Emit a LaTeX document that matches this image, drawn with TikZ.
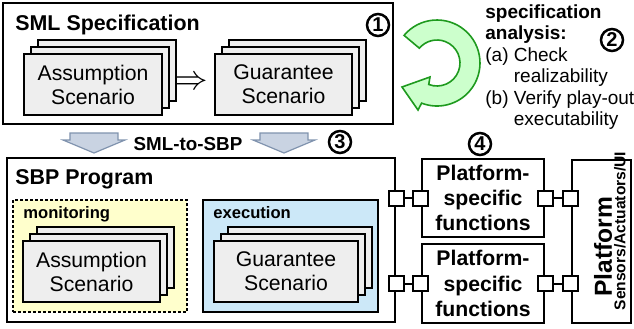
\documentclass[tikz,border=0pt]{standalone}
\usepackage{fontspec}
\setmainfont{Liberation Sans}
\usetikzlibrary{shadows}

\definecolor{scengray}{HTML}{EEEEEE}
\definecolor{monyellow}{HTML}{FFFFCC}
\definecolor{exeblue}{HTML}{CCE8F8}
\definecolor{arrowfill}{HTML}{C9D3E2}
\definecolor{arrowline}{HTML}{8093AE}
\definecolor{loopfill}{HTML}{CCFFCC}
\definecolor{loopline}{HTML}{1E9A1E}

\tikzset{
  bigbox/.style={draw, line width=1.25pt, inner sep=0pt},
  scenbox/.style={draw, fill=scengray, line width=0.7pt, align=center, inner sep=0pt,
    minimum height=30.5pt, font=\fontsize{10.6}{12}\selectfont,
    copy shadow={shadow xshift=7pt, shadow yshift=7pt, fill=scengray, line width=0.7pt},
    copy shadow={shadow xshift=3.5pt, shadow yshift=3.5pt, fill=scengray, line width=0.7pt}},
  boxtitle/.style={anchor=base west, inner sep=0pt, font=\fontsize{10.7}{12}\selectfont\bfseries},
  subtitle/.style={anchor=base west, inner sep=0pt, font=\fontsize{8.3}{10}\selectfont\bfseries},
  numcirc/.style={circle, draw, line width=1.25pt, inner sep=0pt, minimum size=11pt,
    font=\fontsize{10}{10}\selectfont\bfseries},
  port/.style={draw, fill=white, line width=1pt, inner sep=0pt, minimum size=7.5pt},
  portline/.style={line width=1pt},
  blockarrow/.style={draw=arrowline, fill=arrowfill, line width=0.6pt},
  psf/.style={bigbox, minimum width=61pt, minimum height=39pt, align=center,
    font=\fontsize{10.6}{12.7}\selectfont\bfseries}
}

\begin{document}
\begin{tikzpicture}[x=0.5pt,y=0.5pt]
\useasboundingbox (0,0) rectangle (634,-328);

% specification part
\node[bigbox, minimum width=195pt, minimum height=60.5pt] (sml) at (198,-63.5) {};
\node[boxtitle] (smltitle) at (15,-30) {SML Specification};
\node[numcirc] (c1) at (378,-25) {1};

\node[scenbox, minimum width=69pt] (smlA) at (93,-84.5) {Assumption\\Scenario};
\node[inner sep=0pt, font=\fontsize{16}{16}\selectfont] (impl) at (191,-83) {$\Rightarrow$};
\node[scenbox, minimum width=68.5pt] (smlG) at (283.5,-84.5) {Guarantee\\Scenario};

% analysis loop
\draw[draw=loopline, fill=loopfill, line width=0.8pt]
  ([shift={(437,-63)}]140:43) arc[start angle=140, end angle=-111, radius=43]
  -- (418,-110) -- (402,-87) -- (430,-77)
  -- ([shift={(437,-63)}]-111:23) arc[start angle=-111, end angle=140, radius=23] -- cycle;

\node[anchor=north west, inner sep=0pt, font=\fontsize{9.5}{10.75}\selectfont] (analysis) at (485,-3) {%
  \begin{tabular}{@{}l@{\ }l@{}}
  \multicolumn{2}{@{}l@{}}{\bfseries specification}\\
  \multicolumn{2}{@{}l@{}}{\bfseries analysis:}\\
  (a) & Check\\
      & realizability\\
  (b) & Verify play-out\\
      & executability
  \end{tabular}};
\node[numcirc] (c2) at (612,-40) {2};

% translation
\foreach \ax in {94,284} {
  \draw[blockarrow] (\ax-24,-133) -- (\ax+24,-133) -- (\ax+24,-140) -- (\ax+31,-140)
    -- (\ax,-153) -- (\ax-31,-140) -- (\ax-24,-140) -- cycle;
}
\node[font=\fontsize{9.4}{11}\selectfont\bfseries] (s2s) at (188,-144) {SML-to-SBP};
\node[numcirc] (c3) at (340,-142) {3};

% program part
\node[bigbox, minimum width=194pt, minimum height=82pt] (sbp) at (201,-240) {};
\node[boxtitle] (sbptitle) at (15,-184) {SBP Program};

\node[draw, dash pattern=on 1.5pt off 1pt, fill=monyellow, line width=0.6pt, minimum width=87pt, minimum height=56pt] (mon) at (100,-256) {};
\node[subtitle] (montitle) at (23,-218) {monitoring};
\node[draw, fill=exeblue, line width=0.6pt, minimum width=87.5pt, minimum height=56pt] (exe) at (290.5,-256) {};
\node[subtitle] (exetitle) at (213,-218) {execution};

\node[scenbox, minimum width=68.5pt] (sbpA) at (91.5,-271.5) {Assumption\\Scenario};
\node[scenbox, minimum width=72pt] (sbpG) at (286,-271.5) {Guarantee\\Scenario};

% platform
\node[psf] (psfA) at (483,-198) {Platform-\\specific\\functions};
\node[psf, minimum height=39.5pt] (psfB) at (483,-283.5) {Platform-\\specific\\functions};
\node[numcirc] (c4) at (480,-144) {4};

\node[bigbox, minimum width=29.5pt, minimum height=81.5pt] (plat) at (601.5,-241.5) {};
\node[rotate=90, font=\fontsize{12.3}{14}\selectfont\bfseries] (platname) at (603,-247) {Platform};
\node[rotate=90, font=\fontsize{7.8}{9}\selectfont\bfseries] (sensors) at (620,-231) {Sensors/Actuators/UI};

\foreach \r in {A,B} {
  \node[port] (l\r) at (sbp.east |- psf\r) {};
  \node[port] (m\r) at (psf\r.west) {};
  \node[port] (n\r) at (psf\r.east) {};
  \node[port] (r\r) at (plat.west |- psf\r) {};
  \draw[portline] (l\r) -- (m\r);
  \draw[portline] (n\r) -- (r\r);
}

\end{tikzpicture}
\end{document}
